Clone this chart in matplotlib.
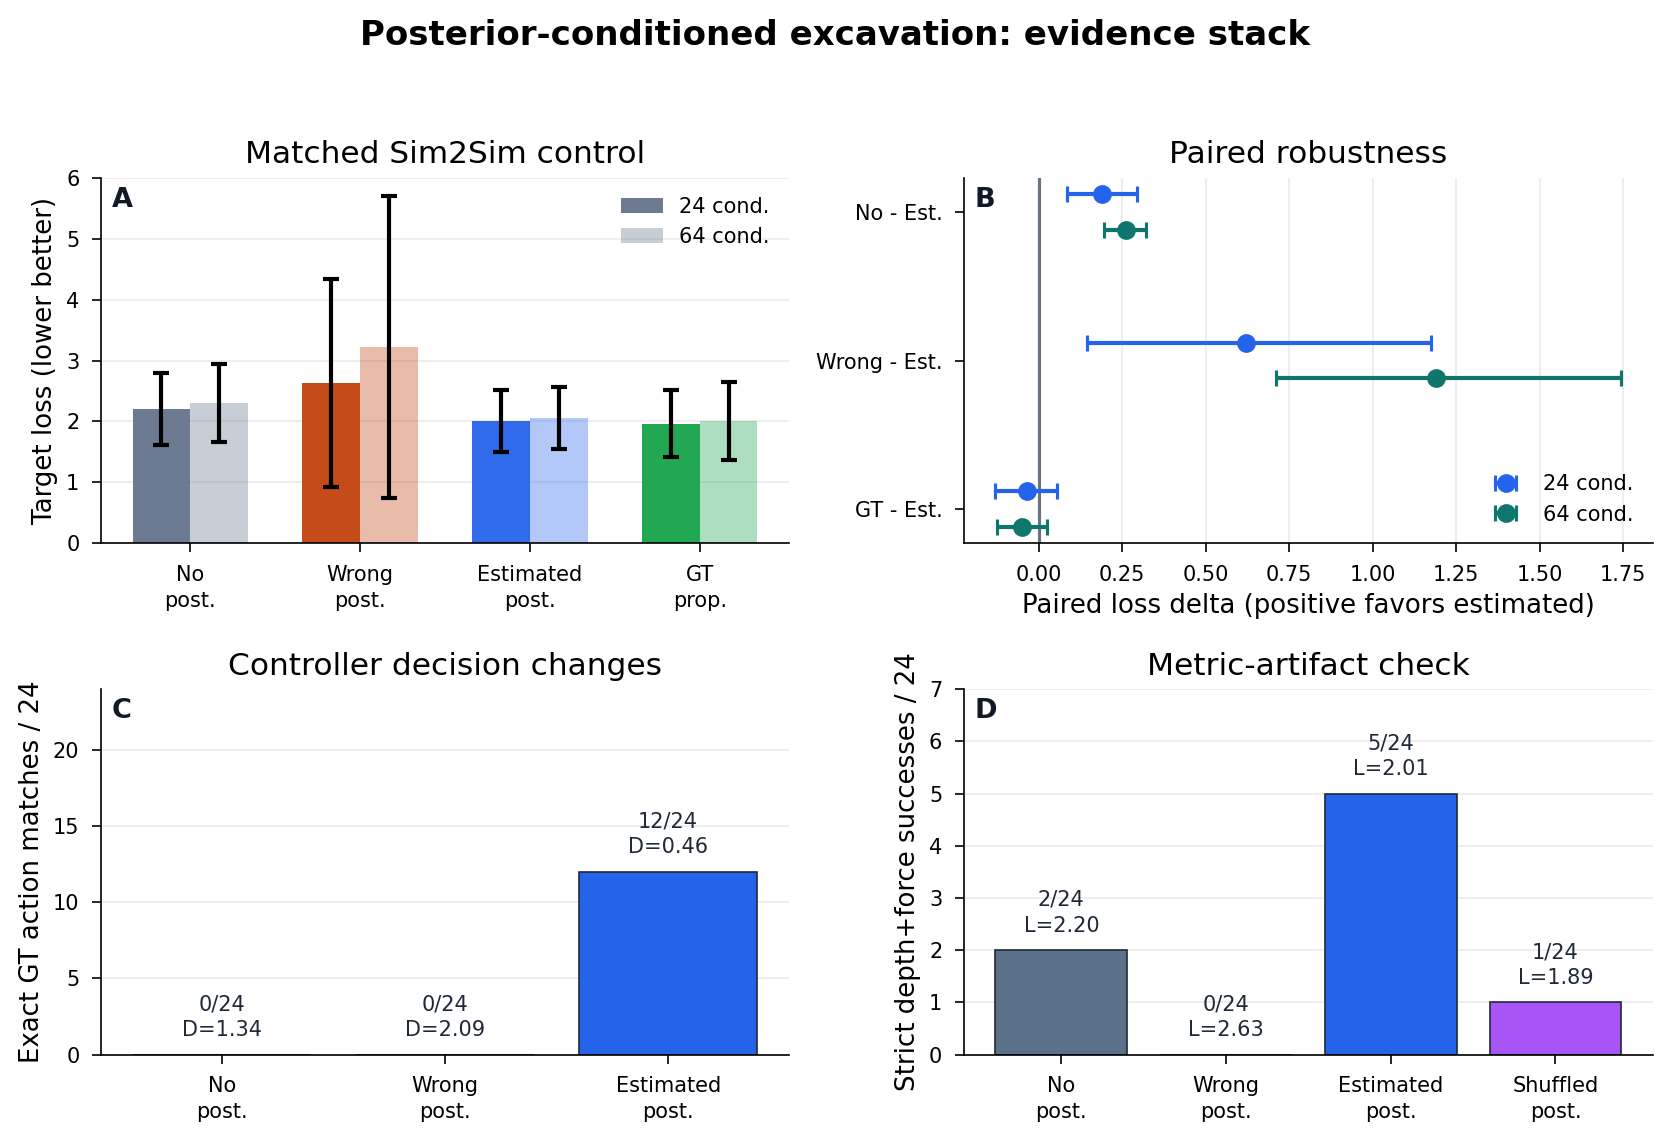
import numpy as np
import matplotlib
matplotlib.use("Agg")
from matplotlib import pyplot as plt

# panel A: matched sim2sim control
cond_a = ["No\npost.", "Wrong\npost.", "Estimated\npost.", "GT\nprop."]
loss24 = [2.20, 2.63, 2.01, 1.96]
err24 = [0.59, 1.71, 0.51, 0.55]
loss64 = [2.30, 3.23, 2.05, 2.00]
err64 = [0.645, 2.48, 0.51, 0.64]
colors_a = ["#64748b", "#c2410c", "#2563eb", "#16a34a"]

# panel B: paired robustness (delta and CI)
pairs = ["No - Est.", "Wrong - Est.", "GT - Est."]
delta24 = [0.19, 0.62, -0.035]
lo24 = [0.085, 0.145, -0.13]
hi24 = [0.295, 1.175, 0.055]
delta64 = [0.26, 1.19, -0.05]
lo64 = [0.195, 0.71, -0.125]
hi64 = [0.32, 1.745, 0.025]

# panel C: exact GT action matches
cond_c = ["No\npost.", "Wrong\npost.", "Estimated\npost."]
matches = [0, 0, 12]
dist_c = [1.34, 2.09, 0.46]

# panel D: strict successes
cond_d = ["No\npost.", "Wrong\npost.", "Estimated\npost.", "Shuffled\npost."]
succ = [2, 0, 5, 1]
loss_d = [2.20, 2.63, 2.01, 1.89]
colors_d = ["#5b7089", "#c2410c", "#2563eb", "#a855f7"]

C24 = "#2563eb"
C64 = "#0f766e"
TXT = "#1f2937"

fig = plt.figure(figsize=(11.14, 7.62), dpi=150)
axA = fig.add_axes([0.0606, 0.5247, 0.4114, 0.3197])
axB = fig.add_axes([0.577, 0.5247, 0.412, 0.3197])
axC = fig.add_axes([0.0606, 0.0774, 0.4114, 0.3197])
axD = fig.add_axes([0.577, 0.0774, 0.412, 0.3197])

for ax in (axA, axB, axC, axD):
    ax.spines["top"].set_visible(False)
    ax.spines["right"].set_visible(False)
    ax.tick_params(labelsize=10, length=4.5, pad=6)


def panel_letter(ax, s):
    ax.text(0.015, 0.975, s, transform=ax.transAxes, fontsize=13,
            fontweight="bold", color="#111827", va="top", ha="left")


def tick_labels(ax, labels):
    ax.set_xticks(np.arange(len(labels)))
    ax.set_xticklabels(labels, linespacing=1.35)


# A
x = np.arange(len(cond_a))
w = 0.34
for i in range(len(cond_a)):
    axA.bar(x[i] - w / 2, loss24[i], w, color=colors_a[i], alpha=0.95,
            label="24 cond." if i == 0 else None, zorder=2)
    axA.bar(x[i] + w / 2, loss64[i], w, color=colors_a[i], alpha=0.35,
            label="64 cond." if i == 0 else None, zorder=2)
axA.errorbar(x - w / 2, loss24, yerr=err24, fmt="none", ecolor="black",
             elinewidth=2, capsize=4, capthick=2, zorder=3)
axA.errorbar(x + w / 2, loss64, yerr=err64, fmt="none", ecolor="black",
             elinewidth=2, capsize=4, capthick=2, zorder=3)
tick_labels(axA, cond_a)
axA.set_ylim(0, 6)
axA.set_ylabel("Target loss (lower better)", fontsize=12.5)
axA.set_title("Matched Sim2Sim control", fontsize=15, pad=7)
axA.grid(axis="y", color="#eeeeee", lw=1, zorder=0)
axA.set_axisbelow(True)
axA.legend(frameon=False, fontsize=10, loc="upper right")
panel_letter(axA, "A")

# B
y = np.arange(len(pairs))
off = 0.12
axB.axvline(0, color="#6b7280", lw=1.5, zorder=1)
e24 = [np.subtract(delta24, lo24), np.subtract(hi24, delta24)]
e64 = [np.subtract(delta64, lo64), np.subtract(hi64, delta64)]
axB.errorbar(delta24, y - off, xerr=e24, fmt="o", color=C24, ms=8,
             elinewidth=2, capsize=4, capthick=1.5, label="24 cond.", zorder=3)
axB.errorbar(delta64, y + off, xerr=e64, fmt="o", color=C64, ms=8,
             elinewidth=2, capsize=4, capthick=1.5, label="64 cond.", zorder=3)
axB.set_yticks(y)
axB.set_yticklabels(pairs)
axB.invert_yaxis()
axB.set_xlabel("Paired loss delta (positive favors estimated)", fontsize=12.5)
axB.set_title("Paired robustness", fontsize=15, pad=7)
axB.grid(axis="x", color="#eeeeee", lw=1, zorder=0)
axB.set_axisbelow(True)
axB.legend(frameon=False, fontsize=10, loc="lower right")
panel_letter(axB, "B")

# C
xc = np.arange(len(cond_c))
axC.bar(xc, matches, 0.8, color=C24, edgecolor="#1f2937", lw=0.8, zorder=2)
for i in range(len(cond_c)):
    axC.text(xc[i], matches[i] + 0.96, f"{matches[i]}/24\nD={dist_c[i]:.2f}",
             ha="center", va="bottom", fontsize=10, color=TXT, linespacing=1.35)
tick_labels(axC, cond_c)
axC.set_ylim(0, 24)
axC.set_yticks([0, 5, 10, 15, 20])
axC.set_ylabel("Exact GT action matches / 24", fontsize=12.5)
axC.set_title("Controller decision changes", fontsize=15, pad=7)
axC.grid(axis="y", color="#eeeeee", lw=1, zorder=0)
axC.set_axisbelow(True)
panel_letter(axC, "C")

# D
xd = np.arange(len(cond_d))
axD.bar(xd, succ, 0.8, color=colors_d, edgecolor="#1f2937", lw=0.8, zorder=2)
for i in range(len(cond_d)):
    axD.text(xd[i], succ[i] + 0.28, f"{succ[i]}/24\nL={loss_d[i]:.2f}",
             ha="center", va="bottom", fontsize=10, color=TXT, linespacing=1.35)
tick_labels(axD, cond_d)
axD.set_ylim(0, 7)
axD.set_ylabel("Strict depth+force successes / 24", fontsize=12.5)
axD.set_title("Metric-artifact check", fontsize=15, pad=7)
axD.grid(axis="y", color="#eeeeee", lw=1, zorder=0)
axD.set_axisbelow(True)
panel_letter(axD, "D")

fig.suptitle("Posterior-conditioned excavation: evidence stack",
             fontsize=16.3, fontweight="bold", y=0.983)

fig.savefig("out.png", dpi=150)
